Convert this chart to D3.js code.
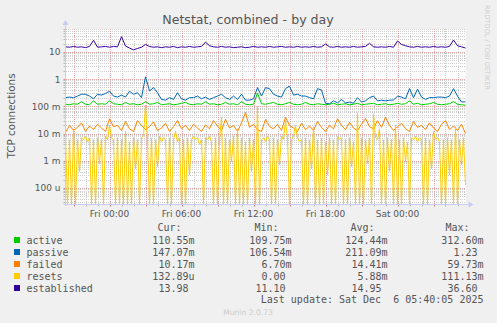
<!DOCTYPE html>
<html><head><meta charset="utf-8">
<script src="https://cdn.jsdelivr.net/npm/d3@7"></script>
<style>
html,body{margin:0;padding:0;background:#f0f0f0;}
svg{display:block;}
text{white-space:pre;}
</style></head><body>
<svg id="c" width="497" height="323"></svg>
<script>
// ---------- data ----------
const seriesNames = ["active","passive","failed","resets","established"];
const seriesColors = ["#00cc00","#0066b3","#ff8000","#ffcc00","#330099"];

// samples every 20 minutes from Thu 20:20 to Sat 05:40
const active = [0.12,0.115,0.125,0.12,0.15,0.12,0.115,0.16,0.12,0.125,0.12,0.16,0.125,0.12,0.115,0.14,0.12,0.125,0.115,0.12,
0.15,0.12,0.125,0.14,0.115,0.12,0.125,0.115,0.12,0.13,0.14,0.12,0.115,0.125,0.12,0.15,0.12,0.125,0.115,0.12,
0.14,0.12,0.125,0.115,0.15,0.12,0.115,0.12,0.31,0.125,0.12,0.13,0.14,0.12,0.115,0.125,0.14,0.12,0.115,0.12,
0.14,0.12,0.115,0.125,0.12,0.115,0.12,0.13,0.115,0.12,0.125,0.115,0.12,0.13,0.115,0.12,0.125,0.13,0.115,0.12,
0.125,0.115,0.12,0.13,0.12,0.125,0.16,0.12,0.13,0.115,0.12,0.125,0.14,0.12,0.115,0.12,0.125,0.15,0.12,0.115,0.11];

const passive = [0.21,0.22,0.21,0.24,0.28,0.28,0.24,0.19,0.28,0.26,0.30,0.36,0.24,0.22,0.26,0.22,0.36,0.28,0.32,0.21,
1.23,0.37,0.49,0.32,0.18,0.17,0.21,0.18,0.32,0.19,0.17,0.21,0.21,0.24,0.19,0.22,0.18,0.21,0.24,0.28,
0.21,0.18,0.24,0.18,0.28,0.17,0.17,0.19,0.49,0.24,0.49,0.45,0.28,0.24,0.22,0.45,0.56,0.26,0.28,0.24,
0.24,0.21,0.19,0.45,0.40,0.13,0.125,0.16,0.135,0.18,0.135,0.145,0.13,0.21,0.145,0.16,0.21,0.24,0.16,0.17,
0.16,0.17,0.17,0.24,0.22,0.19,0.45,0.21,0.43,0.22,0.18,0.21,0.21,0.22,0.22,0.21,0.24,0.45,0.24,0.145,0.147];

const failed = [0.011,0.02,0.013,0.017,0.025,0.012,0.019,0.014,0.022,0.016,0.012,0.035,0.018,0.02,0.013,0.028,0.015,0.012,0.03,0.02,
0.014,0.018,0.027,0.013,0.016,0.024,0.012,0.018,0.03,0.015,0.02,0.013,0.022,0.016,0.012,0.021,0.015,0.03,0.019,0.013,
0.034,0.016,0.02,0.012,0.025,0.06,0.017,0.022,0.014,0.012,0.033,0.018,0.015,0.022,0.013,0.04,0.02,0.016,0.012,0.024,
0.014,0.019,0.013,0.028,0.017,0.012,0.02,0.015,0.035,0.02,0.014,0.026,0.016,0.013,0.022,0.036,0.018,0.015,0.03,0.017,
0.04,0.02,0.013,0.018,0.024,0.015,0.012,0.028,0.017,0.02,0.014,0.025,0.016,0.012,0.022,0.03,0.014,0.019,0.013,0.022,0.01];

// samples every 10 minutes from Thu 20:20 to Sat 05:40
const resets = [0.007,0,0.006,0,0.015,0,0.006,0.0004,0.007,0.006,
0.008,0.005,0.007,0,0.006,0,0.007,0.0008,0.006,0,
0.008,0.006,0.02,0.007,0.006,0,0.007,0,0.006,0,
0.012,0,0.005,0,0.007,0.0005,0.006,0,0.007,0.008,
0.111,0.006,0,0.007,0,0.006,0.0006,0.008,0.005,0.007,
0.006,0,0.007,0,0.006,0.012,0.005,0.007,0,0.006,
0,0.007,0.0003,0.006,0.008,0.006,0.007,0.004,0.006,0,
0.007,0.006,0.008,0.005,0,0.007,0,0.006,0.04,0,
0.007,0,0.006,0.0009,0.008,0,0.015,0,0.007,0,
0.005,0,0.007,0.0004,0.006,0,0.1,0,0.006,0.007,
0.005,0.008,0.006,0,0.007,0,0.006,0.0007,0.008,0.006,
0.03,0.007,0,0.006,0.008,0.02,0.007,0.005,0.006,0,
0.007,0,0.006,0.0005,0.018,0,0.006,0,0.007,0,
0.005,0.0003,0.007,0,0.006,0,0.008,0.006,0.007,0,
0.006,0,0.007,0.0006,0.005,0,0.058,0,0.007,0,
0.006,0.0008,0.007,0,0.05,0.007,0.006,0.015,0,0.006,
0,0.007,0.0004,0.006,0,0.02,0,0.006,0,0.007,
0.0009,0.005,0,0.007,0.006,0.008,0.005,0.007,0.006,0,
0.007,0,0.006,0.0005,0.012,0.006,0.007,0.005,0,0.006,
0,0.007,0.0003,0.006,0,0.018,0,0.006,0.0007,0.007,
0.00013];

const established = [15.5,15,16,15,15.5,14.5,16,27,15,15.5,16,15,16,15.5,36.6,16.5,14,12,13.5,15,
19,16,15,15.5,14.5,15.5,15,16,14.5,15.5,15,16,15,15.5,16,23,17,15.5,15,16,
15,15.5,14.5,15,15.5,14.5,15,16,15,15.5,15,16,15,15.5,16,15,15.5,15,16,15,
15.5,15,16,15,15.5,19.7,15.5,15,16,15,15.5,15,16,15,15.5,16,21,15.5,15,15.5,
15,16,15,25.4,19,17,15.5,15,16,15,15.5,15,16,15,15.5,15,16,27.6,17,15.5,14];

const yTickValues = [1e-4,1e-3,1e-2,1e-1,1,10];
const yTickLabels = ["100 u","1 m","10 m","100 m","1","10"];
const xTickLabels = ["Fri 00:00","Fri 06:00","Fri 12:00","Fri 18:00","Sat 00:00"];

const legendCur = ["110.55m","147.07m","10.17m","132.89u","13.98\u00a0"];
const legendMin = ["109.75m","106.54m","6.70m","0.00\u00a0","11.10\u00a0"];
const legendAvg = ["124.44m","211.09m","14.41m","5.88m","14.95\u00a0"];
const legendMax = ["312.60m","1.23\u00a0","59.73m","111.13m","36.60\u00a0"];

// ---------- drawing ----------
const svg = d3.select("#c");
const plot = {left:65.5, right:465.5, top:29, bottom:204};
const tStart = new Date(2025,11,4,20,20), tEnd = new Date(2025,11,6,5,40);
const x = d3.scaleTime().domain([tStart,tEnd]).range([plot.left,plot.right]);
const y = d3.scaleLog().domain([2.58e-5,70.1]).range([plot.bottom,plot.top]);
const allSeries = [active,passive,failed,resets,established];
const timesFor = s => { const step = (+tEnd - +tStart)/(s.length-1); return s.map((_,i)=> new Date(+tStart + i*step)); };

svg.append("rect").attr("width",497).attr("height",323).attr("fill","#f0f0f0");
svg.append("rect").attr("x",plot.left).attr("y",plot.top)
  .attr("width",plot.right-plot.left).attr("height",plot.bottom-plot.top).attr("fill","#ffffff");

const sans = "'DejaVu Sans', sans-serif", mono = "'DejaVu Sans Mono', monospace";
const px = v => Math.round(v)+0.5;

// horizontal grid
const [d0,d1] = y.domain();
const minor=[], major=[];
for(let k=-6;k<=2;k++){
  for(let m=1;m<=9;m++){
    const v=m*Math.pow(10,k);
    if(v<d0||v>d1) continue;
    (m===1?major:minor).push(v);
  }
}
const gridMinor = "#cfcfcf", gridMajor = "#e8a0a0";
const gx0 = 66, gx1 = 466, gy0 = 29, gy1 = 204;
const g = svg.append("g");
g.selectAll("line.hmin").data(minor).join("line")
  .attr("x1",gx0).attr("x2",gx1)
  .attr("y1",d=>px(y(d))).attr("y2",d=>px(y(d)))
  .attr("stroke",gridMinor).attr("stroke-dasharray","1,1");
const hours = d3.timeHour.range(tStart, tEnd);
g.selectAll("line.vmin").data(hours.filter(h=>h.getHours()%3!==0)).join("line")
  .attr("y1",gy0).attr("y2",gy1)
  .attr("x1",d=>px(x(d))).attr("x2",d=>px(x(d)))
  .attr("stroke",gridMinor).attr("stroke-dasharray","1,1");
g.selectAll("line.hmaj").data(major).join("line")
  .attr("x1",gx0).attr("x2",gx1)
  .attr("y1",d=>px(y(d))).attr("y2",d=>px(y(d)))
  .attr("stroke",gridMajor).attr("stroke-dasharray","1,1");
g.selectAll("line.vmaj").data(hours.filter(h=>h.getHours()%3===0)).join("line")
  .attr("y1",gy0).attr("y2",gy1)
  .attr("x1",d=>px(x(d))).attr("x2",d=>px(x(d)))
  .attr("stroke",gridMajor).attr("stroke-dasharray","1,1");

// axis ticks
g.selectAll("line.xt").data(hours).join("line")
  .attr("x1",d=>px(x(d))).attr("x2",d=>px(x(d)))
  .attr("y1",plot.bottom).attr("y2",plot.bottom+2.5)
  .attr("stroke",d=>d.getHours()%3===0?"#e08080":"#b8b8b8");
g.selectAll("line.yt").data(major.concat(minor)).join("line")
  .attr("y1",d=>px(y(d))).attr("y2",d=>px(y(d)))
  .attr("x1",plot.left-2).attr("x2",plot.left)
  .attr("stroke",d=>major.includes(d)?"#e08080":"#b8b8b8");

// series
svg.append("clipPath").attr("id","clip").append("rect")
  .attr("x",plot.left).attr("y",plot.top).attr("width",plot.right-plot.left+1).attr("height",plot.bottom-plot.top);
allSeries.forEach((s,k)=>{
  const ts = timesFor(s);
  const line = d3.line().x((d,i)=>x(ts[i])).y(d=> d>0 ? Math.min(y(d),plot.bottom) : plot.bottom);
  svg.append("path").attr("clip-path","url(#clip)").attr("d",line(s))
    .attr("fill","none").attr("stroke",seriesColors[k]).attr("stroke-width",1);
});

// axes
const axisCol = "#c8ccf4";
svg.append("line").attr("x1",plot.left).attr("x2",plot.left).attr("y1",plot.bottom+2).attr("y2",plot.top-5).attr("stroke",axisCol);
svg.append("line").attr("x1",plot.left-2).attr("x2",plot.right+3).attr("y1",plot.bottom+0.5).attr("y2",plot.bottom+0.5).attr("stroke",axisCol);
svg.append("path").attr("d",`M${plot.left-3},${plot.top-4} L${plot.left+3},${plot.top-4} L${plot.left},${plot.top-9} Z`).attr("fill",axisCol);
svg.append("path").attr("d",`M${plot.right+3},${plot.bottom-2.5} L${plot.right+3},${plot.bottom+3.5} L${plot.right+8},${plot.bottom+0.5} Z`).attr("fill",axisCol);

// y labels
svg.selectAll("text.yl").data(yTickValues).join("text")
  .attr("x",60.5).attr("y",d=>y(d)+3.3).attr("text-anchor","end")
  .attr("font-family",sans).attr("font-size",9).attr("fill","#555")
  .text((d,i)=>yTickLabels[i]);
// x labels
const xLabelTimes = xTickLabels.map((_,i)=> d3.timeHour.offset(new Date(2025,11,5,0,0), i*6));
svg.selectAll("text.xl").data(xLabelTimes).join("text")
  .attr("x",d=>x(d)).attr("y",216.5).attr("text-anchor","middle")
  .attr("font-family",sans).attr("font-size",9).attr("fill","#555")
  .text((d,i)=>xTickLabels[i]);

// title
svg.append("text").attr("x",248).attr("y",24).attr("text-anchor","middle")
  .attr("font-family",sans).attr("font-size",12.6).attr("fill","#555")
  .text("Netstat, combined - by day");
// y title
svg.append("text").attr("transform","translate(15,116) rotate(-90)").attr("text-anchor","middle")
  .attr("font-family",sans).attr("font-size",10.4).attr("fill","#555")
  .text("TCP connections");
// rrdtool credit
svg.append("text").attr("transform","translate(484.5,5) rotate(90)")
  .attr("font-family",sans).attr("font-size",6.6).attr("fill","#cfcfcf")
  .text("RRDTOOL / TOBI OETIKER");

// legend
const lg = svg.append("g").attr("font-family",mono).attr("font-size",10).attr("fill","#555");
const colHeads = ["Cur:","Min:","Avg:","Max:"], headX=[157.5,254.5,350.5,445.5];
colHeads.forEach((h,i)=> lg.append("text").attr("x",headX[i]).attr("y",230.5).text(h));
const colRight=[194.5,291.5,387.5,483.5], cols=[legendCur,legendMin,legendAvg,legendMax];
seriesNames.forEach((n,k)=>{
  const yy = 243.5 + k*12;
  lg.append("rect").attr("x",14).attr("y",yy-6.5).attr("width",6).attr("height",6).attr("fill",seriesColors[k]);
  lg.append("text").attr("x",26.5).attr("y",yy).text(n);
  cols.forEach((c,j)=> lg.append("text").attr("x",colRight[j]).attr("y",yy).attr("text-anchor","end").text(c[k]));
});
lg.append("text").attr("x",483.5).attr("y",302.5).attr("text-anchor","end").text("Last update: Sat Dec  6 05:40:05 2025");
svg.append("text").attr("x",248).attr("y",315).attr("text-anchor","middle")
  .attr("font-family",sans).attr("font-size",7.6).attr("fill","#cccccc").text("Munin 2.0.73");
</script>
</body></html>
